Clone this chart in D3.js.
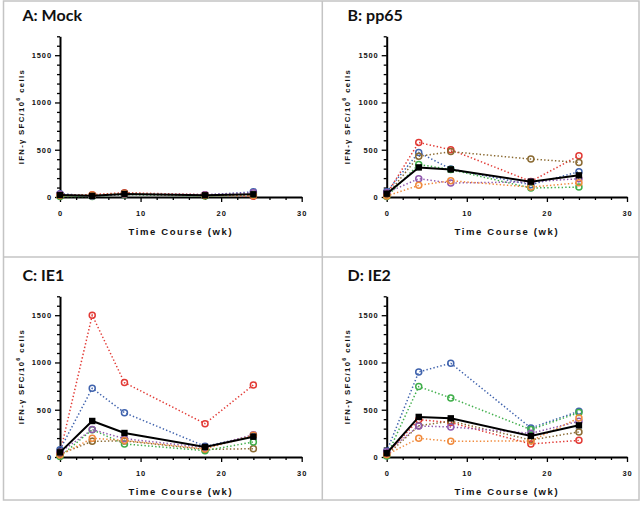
<!DOCTYPE html>
<html>
<head>
<meta charset="utf-8">
<script src="https://cdn.jsdelivr.net/npm/d3@7"></script>
<style>
  html, body { margin: 0; padding: 0; background: #fff; }
  svg { display: block; }
</style>
</head>
<body>
<svg id="chart" width="642" height="506"></svg>
<script>
// ---------- data ----------
const times = [0, 4, 8, 18, 24];
const panelTitles = ["A: Mock", "B: pp65", "C: IE1", "D: IE2"];
const subjects = ["S1", "S2", "S3", "S4", "S5", "S6"];
const xTicks = [0, 10, 20, 30];
const yTicks = [0, 500, 1000, 1500];

// rows follow `subjects` order
const mockValues = [
  [20, 25, 45, 25, 8],
  [35, 10, 30, 20, 55],
  [25, 15, 40, 15, 30],
  [5, 5, 25, 10, 20],
  [30, 10, 30, 25, 45],
  [15, 20, 35, 15, 15]
];
const mockMean = [20, 12, 32, 18, 28];

const pp65Values = [
  [30, 577, 500, 165, 437],
  [55, 472, 296, 130, 268],
  [20, 430, 480, 401, 366],
  [5, 345, 290, 95, 105],
  [45, 194, 148, 160, 194],
  [10, 123, 172, 105, 150]
];
const pp65Mean = [35, 313, 292, 162, 229];

const ie1Values = [
  [40, 1500, 787, 353, 762],
  [78, 727, 469, 113, 222],
  [30, 166, 170, 80, 88],
  [5, 289, 138, 67, 159],
  [50, 290, 194, 100, 236],
  [20, 198, 175, 85, 230]
];
const ie1Mean = [49, 381, 254, 106, 215];

const ie2Values = [
  [30, 395, 364, 138, 176],
  [60, 900, 992, 307, 484],
  [20, 330, 380, 180, 265],
  [10, 745, 625, 290, 470],
  [55, 328, 318, 250, 378],
  [25, 198, 166, 170, 413]
];
const ie2Mean = [40, 424, 409, 222, 335];

// ---------- styles ----------
const subjectColors = ["#e23a35", "#4063ad", "#8a6a32", "#3fae4a", "#9058ad", "#f08a3c"];
const panelData = [
  { values: mockValues, mean: mockMean },
  { values: pp65Values, mean: pp65Mean },
  { values: ie1Values, mean: ie1Mean },
  { values: ie2Values, mean: ie2Mean }
];
// layout per panel: x-axis left/right px, y of zero, y px of 1500
const layouts = [
  { x0: 60, x1: 301.7, y0: 197, y1500: 55.2, tx: 22.5, ty: 20.5, ylx: 20.5 },
  { x0: 386.7, x1: 627, y0: 197, y1500: 55.2, tx: 347.5, ty: 20.5, ylx: 346.5 },
  { x0: 60, x1: 301.7, y0: 457, y1500: 315.2, tx: 22.5, ty: 280.5, ylx: 20.5 },
  { x0: 386.7, x1: 627, y0: 457, y1500: 315.2, tx: 347.5, ty: 280.5, ylx: 346.5 }
];

const svg = d3.select("#chart");

// frame
const frame = svg.append("g").attr("stroke", "#c4c4c4").attr("stroke-width", 1.5).attr("fill", "none");
frame.append("rect").attr("x", 3.5).attr("y", 1).attr("width", 635.5).attr("height", 499);
frame.append("line").attr("x1", 322.3).attr("x2", 322.3).attr("y1", 1).attr("y2", 500);
frame.append("line").attr("x1", 3.5).attr("x2", 639).attr("y1", 257).attr("y2", 257);

const tickFont = "'Liberation Sans', Arial, sans-serif";

panelData.forEach((pd, i) => {
  const L = layouts[i];
  const g = svg.append("g");
  const x = d3.scaleLinear().domain([0, 30]).range([L.x0, L.x1]);
  const yPer = (L.y0 - L.y1500) / 1500;
  const y = d3.scaleLinear().domain([0, 1700]).range([L.y0, L.y0 - 1700 * yPer]);

  // title
  g.append("text")
    .attr("x", L.tx).attr("y", L.ty)
    .attr("font-family", "Lato, 'Open Sans', sans-serif")
    .attr("font-weight", "bold")
    .attr("font-size", 16)
    .attr("fill", "#111")
    .text(panelTitles[i]);

  // y axis
  const yAxis = d3.axisLeft(y)
    .tickValues(d3.range(0, 1701, 100))
    .tickSizeOuter(0)
    .tickPadding(3)
    .tickFormat(d => yTicks.includes(d) ? d : "");
  const ya = g.append("g").attr("transform", `translate(${L.x0},0)`).call(yAxis);
  ya.select(".domain").attr("stroke", "#000").attr("stroke-width", 2);
  ya.selectAll(".tick line").attr("stroke", "#000").attr("stroke-width", 1.3)
    .attr("x2", d => yTicks.includes(d) ? -5 : -3);
  ya.selectAll(".tick text")
    .attr("x", -8)
    .attr("font-family", tickFont).attr("font-weight", "bold")
    .attr("font-size", 7.5).attr("letter-spacing", 0.9).attr("fill", "#111");

  // x axis
  const xAxis = d3.axisBottom(x)
    .tickValues(d3.range(0, 31, 2).concat([10, 20, 30]).sort((a, b) => a - b).filter((v, k, a) => a.indexOf(v) === k))
    .tickSizeOuter(0)
    .tickFormat(d => xTicks.includes(d) ? d : "");
  const xa = g.append("g").attr("transform", `translate(0,${L.y0})`).call(xAxis);
  xa.select(".domain").attr("stroke", "#000").attr("stroke-width", 2);
  xa.selectAll(".tick line").attr("stroke", "#000").attr("stroke-width", 1.3)
    .attr("y2", d => xTicks.includes(d) ? 5 : 3);
  xa.selectAll(".tick text")
    .attr("y", 14)
    .attr("font-family", tickFont).attr("font-weight", "bold")
    .attr("font-size", 7.5).attr("letter-spacing", 0.9).attr("fill", "#111");

  // x title
  g.append("text")
    .attr("x", (L.x0 + L.x1) / 2).attr("y", L.y0 + 37.5)
    .attr("text-anchor", "middle")
    .attr("font-family", tickFont).attr("font-weight", "bold")
    .attr("font-size", 9.5).attr("letter-spacing", 1.6).attr("fill", "#111")
    .text("Time Course (wk)");

  // y title
  const yt = g.append("text")
    .attr("transform", `translate(${L.ylx + 3},${(L.y0 + y(1700)) / 2}) rotate(-90)`)
    .attr("text-anchor", "middle")
    .attr("font-family", tickFont).attr("font-weight", "bold")
    .attr("font-size", 7.8).attr("letter-spacing", 1.3).attr("fill", "#111");
  yt.append("tspan").text("IFN-γ SFC/10");
  yt.append("tspan").attr("dy", -3.5).attr("font-size", 5.5).text("6");
  yt.append("tspan").attr("dy", 3.5).text(" cells");

  const line = d3.line().x((d, k) => x(times[k])).y(d => y(d));

  // subject dotted lines
  pd.values.forEach((vals, s) => {
    g.append("path")
      .datum(vals)
      .attr("d", line)
      .attr("fill", "none")
      .attr("stroke", subjectColors[s])
      .attr("stroke-width", 1.5)
      .attr("stroke-dasharray", "1.4,2.2");
  });
  // subject markers
  pd.values.forEach((vals, s) => {
    g.selectAll(null).data(vals).enter().append("circle")
      .attr("cx", (d, k) => x(times[k]))
      .attr("cy", d => y(d))
      .attr("r", 3)
      .attr("fill", "none")
      .attr("stroke", subjectColors[s])
      .attr("stroke-width", 1.5);
  });
  // mean
  g.append("path")
    .datum(pd.mean)
    .attr("d", line)
    .attr("fill", "none")
    .attr("stroke", "#000")
    .attr("stroke-width", 2);
  g.selectAll(null).data(pd.mean).enter().append("rect")
    .attr("x", (d, k) => x(times[k]) - 3.2)
    .attr("y", d => y(d) - 3.2)
    .attr("width", 6.4).attr("height", 6.4)
    .attr("fill", "#000");
});
</script>
</body>
</html>
